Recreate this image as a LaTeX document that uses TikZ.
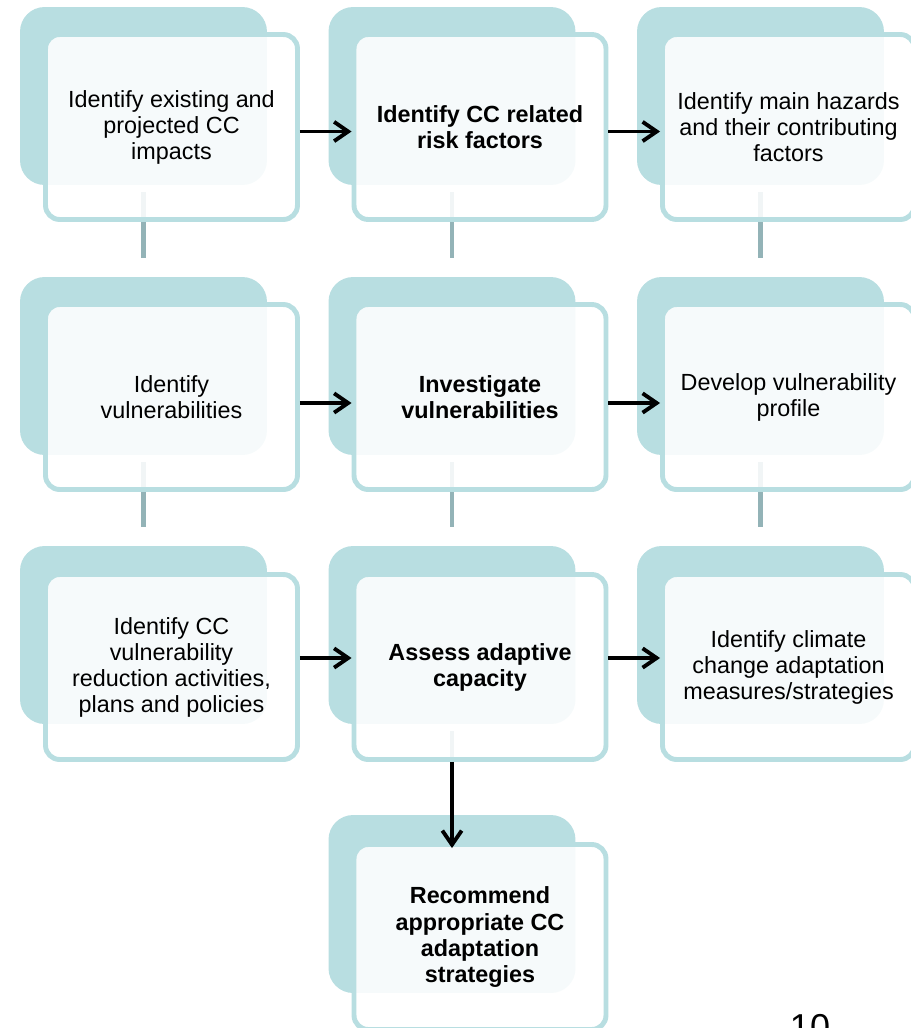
\documentclass[tikz,border=0pt]{standalone}
\usepackage{fontspec}
\setmainfont{Liberation Sans}
\usetikzlibrary{arrows.meta}
\definecolor{tealback}{HTML}{B8DEE1}
\definecolor{linkgray}{HTML}{93B3B7}
\newcommand{\boxfont}{\fontsize{13.3pt}{14.8pt}\selectfont}
\tikzset{
  backbox/.style={fill=tealback, rounded corners=14pt, minimum width=4.94cm,
    minimum height=3.56cm, inner sep=0pt},
  frontbox/.style={draw=tealback, line width=2.8pt, fill=white, fill opacity=0.88,
    text opacity=1, rounded corners=8pt, minimum width=5.04cm, minimum height=3.7cm,
    align=center, font=\boxfont},
  keybox/.style={frontbox, font=\boxfont\bfseries},
  link/.style={draw=linkgray, line width=2.8pt},
  flow/.style={-{Straight Barb[length=8pt, width=11pt]}, line width=2.2pt, black}
}
\begin{document}
\begin{tikzpicture}[x=0.02cm, y=-0.02cm]
  \useasboundingbox (0,0) rectangle (910,1028);
  % back layer
  \node[backbox] (b11) at (143.5,96) {};
  \node[backbox] (b12) at (452,96) {};
  \node[backbox] (b13) at (760.5,96) {};
  \node[backbox] (b21) at (143.5,366) {};
  \node[backbox] (b22) at (452,366) {};
  \node[backbox] (b23) at (760.5,366) {};
  \node[backbox] (b31) at (143.5,635) {};
  \node[backbox] (b32) at (452,635) {};
  \node[backbox] (b33) at (760.5,635) {};
  \node[backbox] (b42) at (452,904) {};
  % links between rows
  \draw[link] ([yshift=-0.14cm]b11.south) -- ([yshift=0.38cm]b21.north);
  \draw[link] ([yshift=-0.14cm]b12.south) -- ([yshift=0.38cm]b22.north);
  \draw[link] ([yshift=-0.14cm]b13.south) -- ([yshift=0.38cm]b23.north);
  \draw[link] ([yshift=-0.14cm]b21.south) -- ([yshift=0.38cm]b31.north);
  \draw[link] ([yshift=-0.14cm]b22.south) -- ([yshift=0.38cm]b32.north);
  \draw[link] ([yshift=-0.14cm]b23.south) -- ([yshift=0.38cm]b33.north);
  \draw[link] ([yshift=-0.14cm]b32.south) -- ([yshift=0.38cm]b42.north);
  % front boxes
  \node[frontbox] (f11) at (171.5,127) {Identify existing and\\projected CC\\impacts};
  \node[keybox] (f12) at (480,127) {Identify CC related\\risk factors};
  \node[frontbox] (f13) at (788.5,127) {Identify main hazards\\and their contributing\\factors};
  \node[frontbox] (f21) at (171.5,397) {Identify\\vulnerabilities};
  \node[keybox] (f22) at (480,397) {Investigate\\vulnerabilities};
  \node[frontbox] (f23) at (788.5,397) {Develop vulnerability\\profile};
  \node[frontbox] (f31) at (171.5,667) {Identify CC\\vulnerability\\reduction activities,\\plans and policies};
  \node[keybox] (f32) at (480,667) {Assess adaptive\\capacity};
  \node[frontbox] (f33) at (788.5,667) {Identify climate\\change adaptation\\measures/strategies};
  \node[keybox] (f42) at (480,937) {Recommend\\appropriate CC\\adaptation\\strategies};
  % flow arrows
  \draw[flow] ([yshift=-0.09cm]f11.east) -- ([yshift=-0.09cm]f12.west);
  \draw[flow] ([yshift=-0.09cm]f12.east) -- ([yshift=-0.09cm]f13.west);
  \draw[flow] ([yshift=-0.12cm]f21.east) -- ([yshift=-0.12cm]f22.west);
  \draw[flow] ([yshift=-0.12cm]f22.east) -- ([yshift=-0.12cm]f23.west);
  \draw[flow] ([yshift=0.18cm]f31.east) -- ([yshift=0.18cm]f32.west);
  \draw[flow] ([yshift=0.18cm]f32.east) -- ([yshift=0.18cm]f33.west);
  \draw[flow, shorten >=-0.12cm] (b32.center |- f32.south) -- (b42.center |- f42.north);
  % page number
  \node[anchor=base, font=\fontsize{20.5pt}{24pt}\selectfont] (pg) at (810,1039) {10};
\end{tikzpicture}
\end{document}
